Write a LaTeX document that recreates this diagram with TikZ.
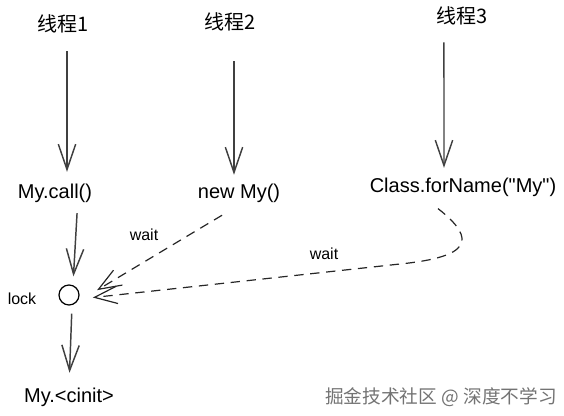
\documentclass[tikz,border=0pt]{standalone}
\usepackage{fontspec}
\setmainfont{Liberation Sans}
\newfontfamily\plain{Liberation Sans}
\newfontfamily\cjk{Noto Sans CJK SC}
\usetikzlibrary{arrows.meta}

\begin{document}
\begin{tikzpicture}[x=0.75pt, y=-0.75pt,
  >={Straight Barb[length=19pt,width=13pt]},
  lbl/.style={inner sep=0pt, font=\fontsize{15}{18}\selectfont},
  small/.style={inner sep=0pt, font=\fontsize{12}{14}\selectfont},
  flow/.style={->, line width=1.1pt, black!75},
  waitline/.style={-{Straight Barb[length=17pt,width=13pt]}, line width=0.9pt,
    dash pattern=on 7pt off 5pt, black!85}]
  \useasboundingbox (0,0) rectangle (564,416);

  % Fili
  \node[lbl] (t1) at (63,24) {\cjk 线程1};
  \node[lbl] (t2) at (230,22) {\cjk 线程2};
  \node[lbl] (t3) at (462.5,16) {\cjk 线程3};

  % Chiamate
  \node[lbl] (call) at (55,193) {My.call()};
  \node[lbl] (newmy) at (239,193) {new My()};
  \node[lbl] (forname) at (463,187) {\plain Class.forName("My")};
  \node[lbl] (cinit) at (69,397) {My.<cinit>};

  % Lock
  \node[draw, circle, line width=0.9pt, minimum size=15pt, inner sep=0pt] (lk) at (69,295) {};
  \node[small] (lock) at (22,299) {lock};

  % Frecce
  \draw[flow, shorten <=13.5pt, shorten >=8.7pt] ([xshift=3pt]t1.south) -- ([xshift=9pt]call.north);
  \draw[flow, shorten <=22.5pt, shorten >=6.5pt] ([xshift=3pt]t2.south) -- ([xshift=-3.75pt]newmy.north);
  \draw[flow, shorten <=12.75pt, shorten >=7.2pt] ([xshift=-13.9pt]t3.south) -- ([xshift=-14.25pt]forname.north);
  \draw[flow, shorten <=8pt, shorten >=6pt] ([xshift=17pt]call.south) -- ([xshift=3pt]lk.north);
  \draw[flow, shorten <=6pt, shorten >=11pt] ([xshift=2.25pt]lk.south) -- (cinit.north);

  % Attese
  \draw[waitline, shorten >=18pt] ([xshift=-12.75pt,yshift=-9.5pt]newmy.south) -- (lk.south east);
  \draw[waitline, shorten >=10pt] ([xshift=-18.75pt,yshift=-9pt]forname.south)
    .. controls (478,240) and (470,257) .. (400,264) -- ([yshift=-3pt]lk.east);
  \node[small] (w1) at (144,235) {wait};
  \node[small] (w2) at (324,254) {wait};

  % Firma
  \node[inner sep=0pt, text=black!55, font=\cjk\fontsize{14}{16}\selectfont] (mark) at (441,397) {掘金技术社区 @ 深度不学习};
\end{tikzpicture}
\end{document}
